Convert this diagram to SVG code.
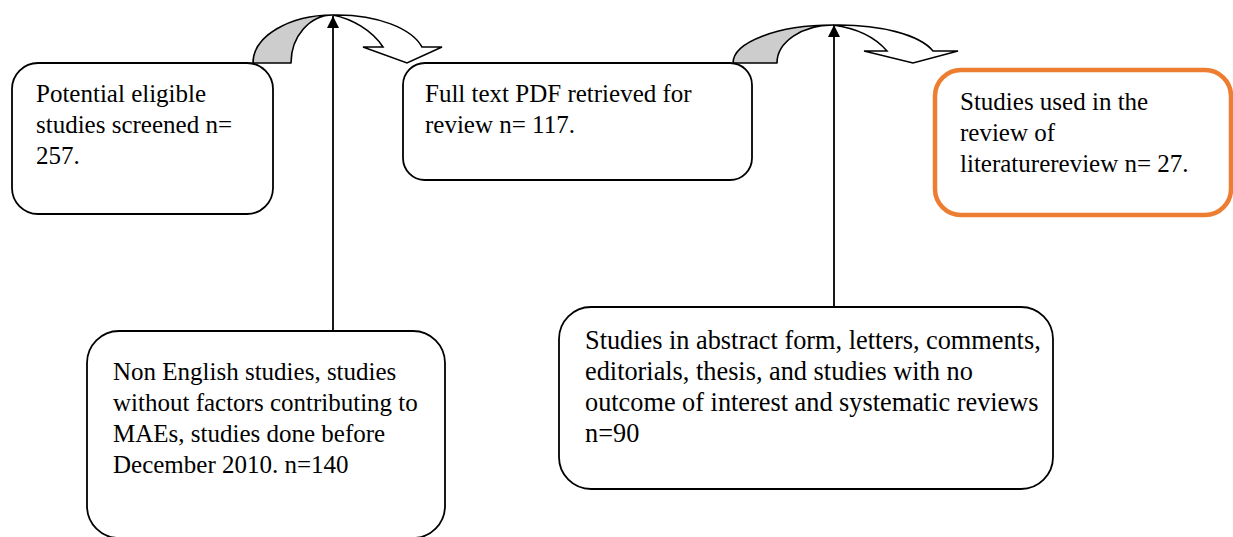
<svg xmlns="http://www.w3.org/2000/svg" width="1233" height="537" viewBox="0 0 1233 537">
<defs>
<marker id="ah" markerWidth="12" markerHeight="12" refX="12" refY="6" orient="auto" markerUnits="userSpaceOnUse">
<path d="M0,0 L12,6 L0,12 Z" fill="#000"/>
</marker>
<style>
.box{fill:#fff;stroke:#000;stroke-width:1.8}
.obox{fill:#fff;stroke:#ED7D31;stroke-width:4.5}
.t{font-family:"Liberation Serif","Times New Roman",serif;font-size:25px;fill:#000}
.t5{font-family:"Liberation Serif","Times New Roman",serif;font-size:26.3px;fill:#000}
.back{fill:#CDCDCD;stroke:#000;stroke-width:1.6;stroke-linejoin:round}
.front{fill:#fff;stroke:#000;stroke-width:1.6;stroke-linejoin:miter}
.conn{stroke:#000;stroke-width:1.8;fill:none}
</style>
</defs>
<rect width="1233" height="537" fill="#fff"/>
<g id="connectors">
<path class="back" d="M253,63 A80,48 0 0 1 333,15 A42,48 0 0 0 291,63 Z"/>
<path class="front" d="M333,15 C378,14 412,29 422,47 L442,47 L407,63 L363,47 L383,47 C372,30 352,19 333,15 Z"/>
<path class="back" d="M733,63 A100,38 0 0 1 833,25 A56,38 0 0 0 777,63 Z"/>
<path class="front" d="M833,25 C880,24 920,35 933,51 L958,51 L913,63 L864,51 L887,51 C875,37 855,28 833,25 Z"/>
<line class="conn" x1="333" y1="331" x2="333" y2="16" marker-end="url(#ah)"/>
<line class="conn" x1="834" y1="307" x2="834" y2="25" marker-end="url(#ah)"/>
</g>
<g id="n1">
<rect class="box" x="12" y="63" width="261" height="151" rx="26"/>
<text class="t" x="36" y="102">Potential eligible</text>
<text class="t" x="36" y="133">studies screened n=</text>
<text class="t" x="36" y="164">257.</text>
</g>
<g id="n2">
<rect class="box" x="403" y="63" width="349" height="117" rx="22"/>
<text class="t" x="425" y="102">Full text PDF retrieved for</text>
<text class="t" x="425" y="133">review n= 117.</text>
</g>
<g id="n3">
<rect class="obox" x="935" y="70" width="296" height="145" rx="26"/>
<text class="t" x="960" y="110">Studies used in the</text>
<text class="t" x="960" y="141">review of</text>
<text class="t" x="960" y="172">literaturereview n= 27.</text>
</g>
<g id="n4">
<rect class="box" x="87" y="331" width="358" height="207" rx="32"/>
<text class="t" x="113" y="380">Non English studies, studies</text>
<text class="t" x="113" y="411">without factors contributing to</text>
<text class="t" x="113" y="442">MAEs, studies done before</text>
<text class="t" x="113" y="473">December 2010. n=140</text>
</g>
<g id="n5">
<rect class="box" x="559" y="307" width="494" height="182" rx="32"/>
<text class="t5" x="585" y="349">Studies in abstract form, letters, comments,</text>
<text class="t5" x="585" y="380">editorials, thesis, and studies with no</text>
<text class="t5" x="585" y="411">outcome of interest and systematic reviews</text>
<text class="t5" x="585" y="442">n=90</text>
</g>
</svg>
